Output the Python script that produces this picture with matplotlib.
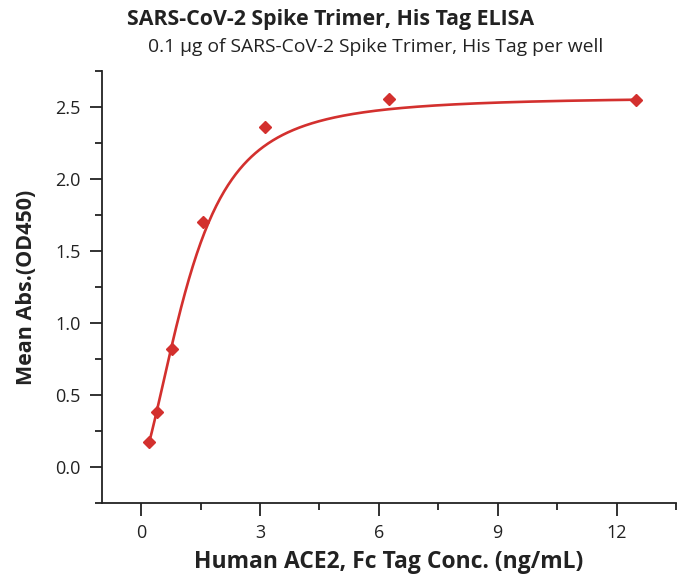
import numpy as np
import matplotlib
matplotlib.use("Agg")
import matplotlib.pyplot as plt
from matplotlib.ticker import MultipleLocator

# Data
conc = [0.195, 0.39, 0.78, 1.56, 3.125, 6.25, 12.5]
absorb = [0.17, 0.38, 0.82, 1.70, 2.36, 2.555, 2.55]
x_ticks = [0, 3, 6, 9, 12]
y_ticks = [0.0, 0.5, 1.0, 1.5, 2.0, 2.5]

# Fitted-curve parameters (5-parameter logistic)
fit_bottom = 0.0
fit_top = 2.57
fit_ec = 1.755
fit_hill = 2.2
fit_asym = 0.57

title = "SARS-CoV-2 Spike Trimer, His Tag ELISA"
subtitle = "0.1 \u03bcg of SARS-CoV-2 Spike Trimer, His Tag per well"
xlabel = "Human ACE2, Fc Tag Conc. (ng/mL)"
ylabel = "Mean Abs.(OD450)"

xf = np.linspace(min(conc), max(conc), 500)
yf = fit_bottom + (fit_top - fit_bottom) / (1 + (fit_ec / xf) ** fit_hill) ** fit_asym

red = "#d3302e"
txt = "#222222"
plt.rcParams["font.family"] = ["Open Sans", "DejaVu Sans"]

fig = plt.figure(figsize=(6.77, 5.84), dpi=100)
ax = fig.add_axes([0.150, 0.139, 0.8485, 0.7394])

ax.plot(xf, yf, color=red, lw=1.9, zorder=2)
ax.plot(conc, absorb, linestyle="none", marker="D", color=red, markersize=6.5, zorder=3)

ax.set_xlim(-1, 13.5)
ax.set_ylim(-0.25, 2.75)
ax.set_xticks(x_ticks)
ax.set_yticks(y_ticks)
ax.set_xticklabels([str(v) for v in x_ticks])
ax.set_yticklabels([f"{v:.1f}" for v in y_ticks])
ax.xaxis.set_minor_locator(MultipleLocator(1.5))
ax.yaxis.set_minor_locator(MultipleLocator(0.25))

for s in ("top", "right"):
    ax.spines[s].set_visible(False)
for s in ("left", "bottom"):
    ax.spines[s].set_linewidth(1.3)
    ax.spines[s].set_color(txt)
ax.tick_params(which="major", direction="out", length=9, width=1.3, color=txt,
               labelsize=13, labelcolor=txt, pad=6)
ax.tick_params(which="minor", direction="out", length=5, width=1.3, color=txt)

ax.set_xlabel(xlabel, fontsize=16.5, fontweight="bold", color=txt, labelpad=6)
ax.set_ylabel(ylabel, fontsize=15.5, fontweight="bold", color=txt, labelpad=13)

fig.text(0.488, 0.966, title, ha="center", va="center", fontsize=15.4,
         fontweight="bold", color=txt)
fig.text(0.555, 0.92, subtitle, ha="center", va="center", fontsize=13.9,
         color=txt)

fig.savefig("out.png", dpi=100)
